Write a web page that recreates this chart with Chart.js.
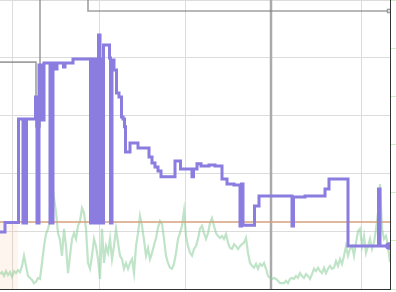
<!DOCTYPE html>
<html>
<head>
<meta charset="utf-8">
<script src="https://cdn.jsdelivr.net/npm/chart.js@4.4.0/dist/chart.umd.min.js"></script>
<style>
  html, body { margin: 0; padding: 0; background: #fff; }
  #wrap { position: relative; width: 396px; height: 292px; }
</style>
</head>
<body>
<div id="wrap"><canvas id="chart"></canvas></div>
<script>
// ── data
const gridDays = [12, 99, 185, 271, 361];
const todayDay = 271;
const baseLevel = 23.2;
const shadeEnd = 18;

const purpleDays = [0, 5, 18.5, 23, 24.5, 25.5, 26.5, 35.5, 37, 39, 42, 44, 50, 53, 55.5, 57, 63.5, 65,
  73, 90.5, 92, 93.5, 95, 96.5, 98.5, 100, 101.5, 102.5, 103.5, 109.5, 110.5, 112, 114, 116.5, 119, 121.5, 123, 124.5,
  125.5, 130, 138, 149, 152, 155, 158, 161, 175, 180.5, 192, 193.5, 197, 201, 209, 215, 222, 227, 234, 240,
  241.5, 243, 254.5, 259, 292, 293.5, 305, 325, 329, 348, 378.5, 380, 389];
const purpleVals = [19.7, 23.0, 58.8, 22.8, 58.8, 22.8, 58.8, 66.4, 22.8, 77.5, 58.5, 78.2, 22.8, 78.2, 76.1, 78.2, 76.8, 78.2,
  79.6, 22.8, 79.6, 22.8, 79.6, 22.8, 87.9, 22.8, 79.6, 22.8, 84.4, 79.9, 22.8, 79.2, 75.8, 67.8, 66.4, 59.5, 58.8, 56.1,
  47.4, 50.5, 48.8, 45.7, 43.6, 42.2, 40.8, 38.8, 44.3, 41.5, 38.8, 41.5, 43.3, 42.6, 42.9, 42.6, 38.1, 36.3, 36.0, 21.8,
  36.3, 22.1, 28.7, 32.2, 21.8, 31.8, 32.2, 34.6, 38.1, 14.9, 34.6, 14.9, 14.9];

const grayDays = [0, 36, 40, 88, 389];
const grayVals = [78.5, 56.1, 110, 96.2, 96.2];

const greenStep = 2;
const greenVals = [
  3.1, 3.5, 2.7, 3.7, 2.9, 3.5, 2.5, 3.7, 3.3, 3.9,
  3.5, 4.8, 6.9, 4.8, 2.7, 2.3, 1.9, 1.2, 1.5, 2.3,
  2.1, 5.4, 8.9, 11.4, 12.5, 14.1, 15.8, 18.9, 16.0, 11.6,
  10.2, 6.9, 12.5, 8.9, 3.3, 6.9, 10.4, 11.6, 10.4, 13.1,
  14.1, 16.8, 15.8, 12.5, 5.4, 4.2, 6.9, 10.4, 8.9, 6.2,
  2.1, 12.5, 5.4, 8.9, 7.5, 10.4, 6.2, 8.9, 12.5, 9.6,
  6.9, 6.2, 4.2, 5.4, 4.2, 5.4, 6.2, 3.3, 8.9, 11.6,
  15.2, 13.1, 10.2, 6.9, 8.5, 6.2, 7.5, 9.1, 10.6, 12.7,
  14.1, 13.5, 10.4, 6.9, 5.4, 4.4, 4.2, 5.2, 7.5, 10.4,
  11.6, 13.1, 16.2, 11.0, 8.9, 7.5, 6.9, 8.3, 8.9, 10.4,
  12.5, 13.1, 11.6, 10.4, 11.6, 13.7, 14.7, 13.1, 11.6, 11.0,
  10.6, 11.0, 10.4, 11.4, 9.6, 8.5, 8.3, 9.3, 8.9, 8.3,
  8.9, 9.3, 9.6, 10.6, 7.5, 5.4, 4.8, 4.4, 5.2, 4.2,
  5.2, 4.8, 5.4, 4.2, 2.7, 2.3, 2.1, 2.3, 2.1, 1.7,
  1.2, 1.2, 1.2, 1.7, 1.2, 2.1, 2.3, 2.1, 2.7, 2.3,
  3.3, 2.7, 2.3, 3.1, 2.7, 2.1, 3.1, 4.2, 3.7, 4.4,
  3.7, 3.3, 4.4, 3.3, 4.2, 4.8, 4.2, 4.4, 5.8, 4.8,
  6.2, 5.2, 6.9, 8.9, 6.9, 8.3, 8.9, 6.9, 9.6, 12.0,
  12.5, 8.9, 11.0, 7.5, 8.9, 10.4, 8.3, 9.6, 12.5, 15.8,
  21.8, 12.5, 10.4, 11.0, 8.9, 5.6
];

const X_MIN = 0, X_MAX = 390;
const Y_MIN = 0, Y_MAX = 100;

const pts = (xs, ys) => xs.map((x, i) => ({ x, y: ys[i] }));
const purpleLast = purpleDays.length - 1;
const grayLast = grayDays.length - 1;

new Chart(document.getElementById("chart"), {
  type: "line",
  data: {
    datasets: [
      {
        // main step line
        data: pts(purpleDays, purpleVals),
        stepped: true,
        borderColor: "#8a7ddf",
        borderWidth: 3,
        pointRadius: (c) => (c.dataIndex === purpleLast ? 3.8 : 0),
        pointBackgroundColor: "#8a7ddf",
        pointBorderWidth: 0,
        yAxisID: "y",
      },
      {
        data: pts(grayDays, grayVals),
        stepped: true,
        borderColor: "rgba(120,120,120,0.7)",
        borderWidth: 1.6,
        pointStyle: "rect",
        pointRadius: (c) => (c.dataIndex === grayLast ? 2.5 : 0),
        pointBackgroundColor: "#ddd",
        pointBorderColor: "#888",
        pointBorderWidth: 1,
        yAxisID: "y",
      },
      {
        data: [{ x: X_MIN, y: baseLevel }, { x: X_MAX, y: baseLevel }],
        borderColor: "#d6a27c",
        borderWidth: 1.6,
        pointRadius: 0,
        yAxisID: "y",
      },
      {
        data: greenVals.map((v, i) => ({ x: i * greenStep, y: v })),
        borderColor: "rgba(140,205,155,0.55)",
        borderWidth: 2.2,
        pointRadius: 0,
        tension: 0,
        yAxisID: "y1",
      },
      {
        // faint shaded band under the base level
        data: [{ x: X_MIN, y: baseLevel }, { x: shadeEnd, y: baseLevel }],
        borderWidth: 0,
        pointRadius: 0,
        fill: "origin",
        backgroundColor: "rgba(245,170,120,0.12)",
        yAxisID: "y",
      },
      {
        data: [{ x: todayDay, y: Y_MIN }, { x: todayDay, y: Y_MAX }],
        borderColor: "#aaa",
        borderWidth: 2.5,
        pointRadius: 0,
        yAxisID: "y",
      },
    ],
  },
  options: {
    responsive: true,
    maintainAspectRatio: false,
    animation: false,
    layout: { autoPadding: false, padding: { left: 0, top: 0, right: 0, bottom: 3 } },
    plugins: { legend: { display: false }, tooltip: { enabled: false } },
    scales: {
      x: {
        type: "linear",
        min: X_MIN,
        max: X_MAX,
        afterBuildTicks: (s) => { s.ticks = gridDays.map((v) => ({ value: v })); },
        ticks: { display: false },
        grid: { color: "#dcdcdc", drawTicks: false },
        border: { color: "#333", width: 1 },
      },
      y: {
        min: Y_MIN,
        max: Y_MAX,
        ticks: { display: false, stepSize: 20 },
        grid: { color: "#dcdcdc", drawTicks: false },
        border: { display: false },
      },
      y1: {
        position: "right",
        min: 0,
        max: 60,
        ticks: { display: false, stepSize: 10 },
        grid: { drawOnChartArea: false, drawTicks: true, tickLength: 6, color: "#c8f0c8" },
        border: { color: "#333", width: 1 },
      },
    },
  },
});
</script>
</body>
</html>
